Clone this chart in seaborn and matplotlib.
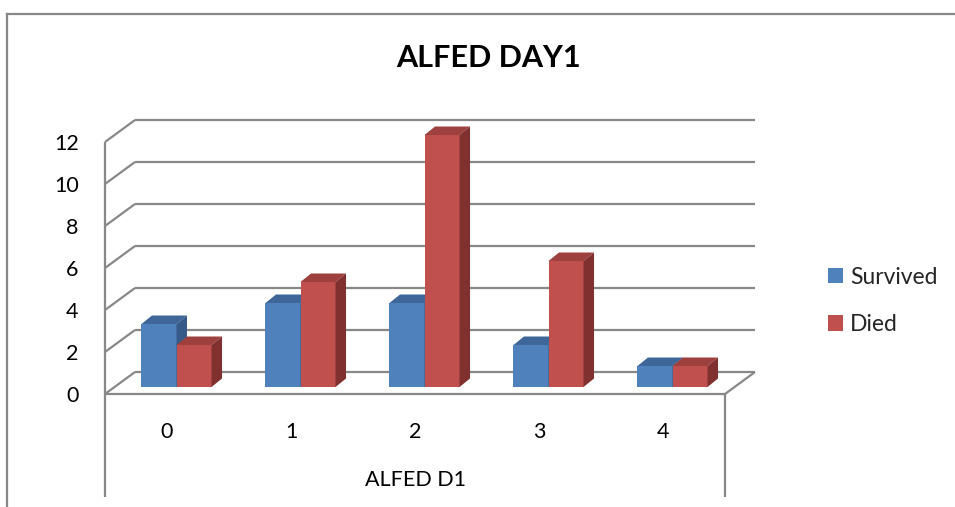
import matplotlib
matplotlib.use("Agg")
import matplotlib.pyplot as plt
import matplotlib.transforms as mtransforms
from matplotlib.patches import Polygon, Patch
from matplotlib.lines import Line2D
import pandas as pd
import seaborn as sns

# ---- data ----
categories = ["0", "1", "2", "3", "4"]
series = ["Survived", "Died"]
survived = [3, 4, 4, 2, 1]
died = [2, 5, 12, 6, 1]
y_ticks = [0, 2, 4, 6, 8, 10, 12]

chart_title = "ALFED DAY1"
x_title = "ALFED D1"

# face colours for the pseudo-3D columns
front_colors = {"Survived": "#4F81BD", "Died": "#C0504D"}
top_colors = {"Survived": "#3E6698", "Died": "#9E403D"}
side_colors = {"Survived": "#375B88", "Died": "#80312F"}
line_color = "#888888"

df = pd.DataFrame({
    "category": categories * 2,
    "value": survived + died,
    "series": [series[0]] * len(categories) + [series[1]] * len(categories),
})

# ---- figure / layout (pixel geometry) ----
W, H, DPI = 955, 507, 100
sns.set_theme(style="white")
plt.rcParams["font.family"] = ["Lato", "DejaVu Sans"]

fig = plt.figure(figsize=(W / DPI, H / DPI), dpi=DPI)
fig.patch.set_facecolor("white")

left_px, right_px = 105, 725      # front edge of the floor
floor_px, top_px = 394, 142       # value 0 and value 12 on the front plane
ax = fig.add_axes([left_px / W, 1 - floor_px / H,
                   (right_px - left_px) / W, (floor_px - top_px) / H])
ax.set_facecolor("none")

sns.barplot(data=df, x="category", y="value", hue="series",
            order=categories, hue_order=series, palette=front_colors,
            width=0.565, saturation=1, legend=False, ax=ax)
ax.set_xlim(-0.5, len(categories) - 0.5)
ax.set_ylim(0, 12)
for sp in ax.spines.values():
    sp.set_visible(False)

px_x = (right_px - left_px) / len(categories)   # pixels per category
px_y = (floor_px - top_px) / 12                  # pixels per value unit

# depth of the walls and of the columns, in pixels
wall_dx, wall_dy = 30, 22
bar_shift_x, bar_shift_y = 9.5, 7
bar_dx, bar_dy = 10.5, 8.5
gx, gy = wall_dx / px_x, wall_dy / px_y
x_lo, x_hi = -0.5, len(categories) - 0.5
bottom_y = -(497 - floor_px) / px_y

# ---- walls, floor and category box ----
lkw = dict(color=line_color, lw=1.6, clip_on=False, zorder=1,
           solid_capstyle="butt")
for v in y_ticks:
    ax.plot([x_lo, x_lo + gx], [v, v + gy], **lkw)
    ax.plot([x_lo + gx, x_hi + gx], [v + gy, v + gy], **lkw)
ax.plot([x_lo, x_hi], [0, 0], **lkw)
ax.plot([x_hi, x_hi + gx], [0, gy], **lkw)
ax.plot([x_lo, x_lo], [12, bottom_y], **lkw)
ax.plot([x_hi, x_hi], [0, bottom_y], **lkw)

# ---- columns: front from seaborn, top and side faces added ----
bar_tr = mtransforms.offset_copy(ax.transData, fig=fig, x=bar_shift_x,
                                 y=bar_shift_y, units="dots")
hue_of = {}
for i, name in enumerate(series):
    for p in ax.patches[i * len(categories):(i + 1) * len(categories)]:
        hue_of[id(p)] = name
bars = sorted(ax.patches, key=lambda p: p.get_x())
ddx, ddy = bar_dx / px_x, bar_dy / px_y
for rank, p in enumerate(bars):
    name = hue_of[id(p)]
    z = 3 + rank * 0.1
    p.set_transform(bar_tr)
    p.set_clip_on(False)
    p.set_zorder(z)
    p.set_edgecolor("none")
    x0, w, h = p.get_x(), p.get_width(), p.get_height()
    x1 = x0 + w
    top = Polygon([(x0, h), (x1, h), (x1 + ddx, h + ddy), (x0 + ddx, h + ddy)],
                  closed=True, facecolor=top_colors[name], edgecolor="none",
                  transform=bar_tr, clip_on=False, zorder=z + 0.01)
    side = Polygon([(x1, 0), (x1, h), (x1 + ddx, h + ddy), (x1 + ddx, ddy)],
                   closed=True, facecolor=side_colors[name], edgecolor="none",
                   transform=bar_tr, clip_on=False, zorder=z + 0.02)
    ax.add_patch(top)
    ax.add_patch(side)

# ---- axes text ----
ax.set_yticks(y_ticks)
ax.set_yticklabels([str(v) for v in y_ticks])
ax.tick_params(axis="y", length=0, pad=19, labelsize=15.5, colors="black")
ax.tick_params(axis="x", length=0, pad=20, labelsize=15.5, colors="black")
ax.set_xlabel(x_title, fontsize=15.5, color="black")
ax.xaxis.set_label_coords(0.5, -(470 - floor_px) / (floor_px - top_px))
ax.set_ylabel("")

fig.text(488 / W, 1 - 58 / H, chart_title, ha="center", va="center",
         fontsize=22, fontweight="bold", color="black")

handles = [Patch(facecolor=front_colors[s], edgecolor="none", label=s)
           for s in series]
ax.legend(handles=handles, loc="center left",
          bbox_to_anchor=(828 / W, 1 - 301 / H), bbox_transform=fig.transFigure,
          frameon=False, fontsize=16.5, handlelength=0.65, handleheight=0.65,
          handletextpad=0.3, labelspacing=1.15, borderpad=0, borderaxespad=0)

# chart area border (left and top edges)
bkw = dict(color=line_color, lw=1.6, transform=fig.transFigure, zorder=0,
           solid_capstyle="projecting")
fig.add_artist(Line2D([7 / W, 7 / W], [0, 1 - 13.5 / H], **bkw))
fig.add_artist(Line2D([7 / W, 1], [1 - 13.5 / H, 1 - 13.5 / H], **bkw))

fig.savefig("out.png", dpi=DPI, facecolor="white")
